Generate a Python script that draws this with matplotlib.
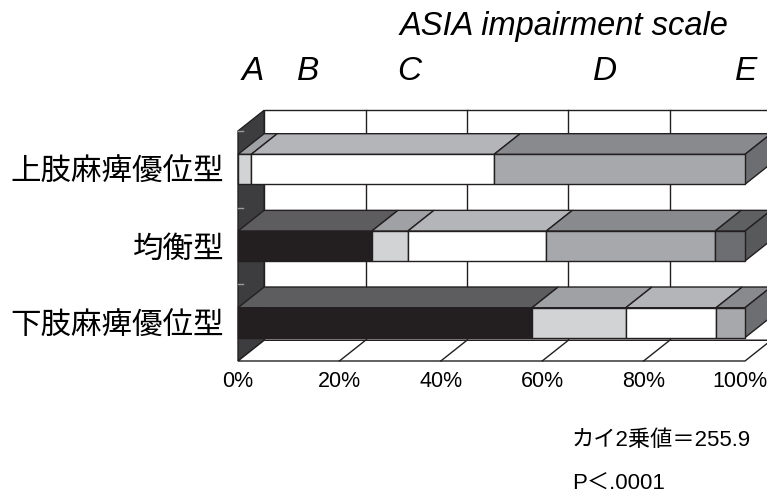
import matplotlib
matplotlib.use("Agg")
import matplotlib.pyplot as plt
from matplotlib.patches import Polygon

# groups from bottom to top
groups = ["下肢麻痺優位型", "均衡型", "上肢麻痺優位型"]
grades = ["A", "B", "C", "D", "E"]

# share (%) of each ASIA grade within each group
grade_a = [58.0, 26.4, 0.0]
grade_b = [18.5, 7.1, 2.6]
grade_c = [17.8, 27.3, 47.9]
grade_d = [5.7, 33.3, 49.5]
grade_e = [0.0, 5.9, 0.0]

xticks = [0, 20, 40, 60, 80, 100]
grade_label_x = [3.0, 13.8, 33.7, 72.4, 100.2]

title = "ASIA impairment scale"
chi2_text = "カイ2乗値＝255.9"
p_text = "P＜.0001"

# front / top / side shades per grade
FRONT = ["#231f20", "#d1d3d4", "#ffffff", "#a6a8ab", "#6d6e71"]
TOP = ["#5d5d5f", "#a0a1a4", "#b4b5b8", "#898a8d", "#5f6062"]
SIDE = ["#3a3a3c", "#8c8d90", "#9a9b9e", "#6d6e71", "#58595b"]
EDGE = "#231f20"
WALL = "#3d3d3f"

DX, DY = 5.15, 0.27   # depth offset in data units
BAR_H = 0.39

LATIN = ["Liberation Sans", "DejaVu Sans"]
CJK = ["Noto Sans CJK JP", "DejaVu Sans"]
MIXED = ["Liberation Sans", "Noto Sans CJK JP"]


def face(ax, pts, fc, z, lw=1.0):
    ax.add_patch(Polygon(pts, closed=True, fc=fc, ec=EDGE, lw=lw,
                         clip_on=False, zorder=z, joinstyle="miter"))


fig = plt.figure(figsize=(7.67, 4.95), dpi=100)
ax = fig.add_axes([238 / 767, (495 - 361) / 495, 507 / 767, 230 / 495])
ax.set_xlim(0, 100)
ax.set_ylim(-0.5, 2.5)
for s in ax.spines.values():
    s.set_visible(False)

y0, y1 = -0.5, 2.5

# back wall with gridlines
face(ax, [(DX, y0 + DY), (100 + DX, y0 + DY), (100 + DX, y1 + DY), (DX, y1 + DY)], "white", 1)
for v in xticks[1:-1]:
    ax.plot([v + DX, v + DX], [y0 + DY, y1 + DY], color=EDGE, lw=1.0, zorder=1.5, clip_on=False)

# left wall
face(ax, [(0, y0), (DX, y0 + DY), (DX, y1 + DY), (0, y1)], WALL, 2)
for yb in [0.5, 1.5, 2.5]:
    ax.plot([0, 1.0], [yb, yb], color="#9a9a9a", lw=1.0, zorder=2.5, clip_on=False)

# floor
face(ax, [(0, y0), (100, y0), (100 + DX, y0 + DY), (DX, y0 + DY)], "white", 2)
for v in xticks[1:-1]:
    ax.plot([v, v + DX], [y0, y0 + DY], color=EDGE, lw=1.0, zorder=2.5, clip_on=False)

# stacked 3D bars
series = [grade_a, grade_b, grade_c, grade_d, grade_e]
for i in range(len(groups)):
    vals = [s[i] for s in series]
    last = max(j for j, v in enumerate(vals) if v > 0)
    lo, hi = i - BAR_H / 2, i + BAR_H / 2
    left = 0.0
    for j, w in enumerate(vals):
        if w <= 0:
            continue
        x0, x1 = left, left + w
        face(ax, [(x0, hi), (x1, hi), (x1 + DX, hi + DY), (x0 + DX, hi + DY)], TOP[j], 3)
        face(ax, [(x0, lo), (x1, lo), (x1, hi), (x0, hi)], FRONT[j], 4)
        if j == last:
            face(ax, [(x1, lo), (x1 + DX, lo + DY), (x1 + DX, hi + DY), (x1, hi)], SIDE[j], 3)
        left = x1

# percent labels under the floor; the last one nudged to stay on canvas
ax.set_xticks([])
for v in xticks:
    nudge = -3.5 if v == xticks[-1] else 0
    ax.annotate(f"{v}%", (v, y0), xytext=(nudge, -7), textcoords="offset points",
                ha="center", va="top", fontsize=15.5, family=LATIN, annotation_clip=False)

ax.set_yticks(range(len(groups)), groups, fontsize=22, family=CJK)
ax.tick_params(axis="y", length=0, pad=10)

for gx, g in zip(grade_label_x, grades):
    ax.text(gx, 3.28, g, ha="center", va="center", style="italic",
            fontsize=24, family=LATIN, clip_on=False)

fig.text(564 / 767, 1 - 27 / 495, title, ha="center", va="center",
         style="italic", fontsize=23.5, family=LATIN)
fig.text(572 / 767, 1 - 440 / 495, chi2_text, ha="left", va="center", fontsize=16, family=MIXED)
fig.text(572 / 767, 1 - 484 / 495, p_text, ha="left", va="center", fontsize=16, family=MIXED)

fig.savefig("out.png", dpi=100, facecolor="white")
